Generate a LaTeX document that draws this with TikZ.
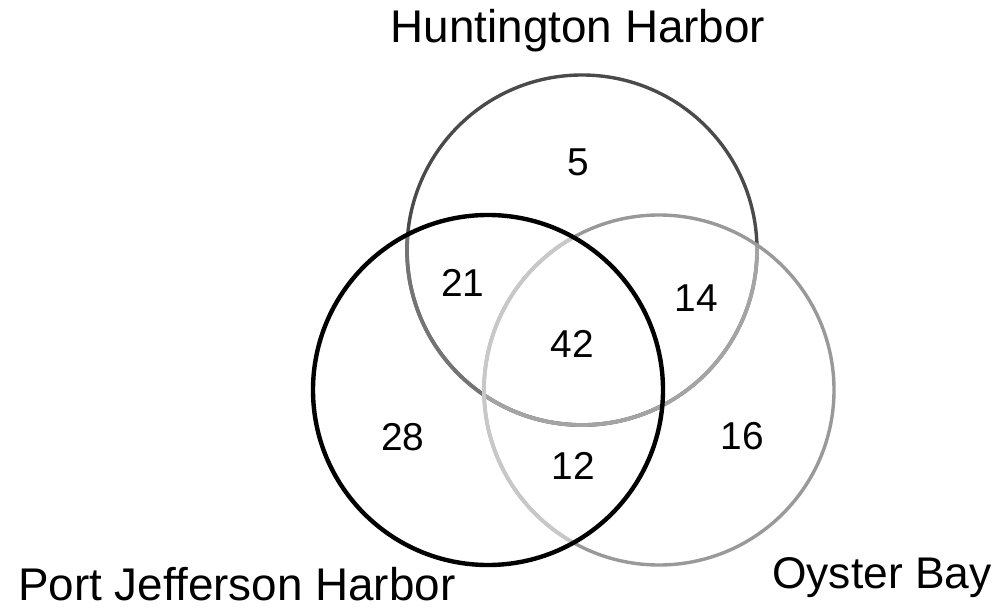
\documentclass[tikz,border=0pt]{standalone}
\usepackage{fontspec}
\setmainfont{Liberation Sans}
\definecolor{hdark}{HTML}{4A4A4A}
\definecolor{hmid}{HTML}{747474}
\definecolor{hlight}{HTML}{A4A4A4}
\definecolor{omid}{HTML}{999999}
\definecolor{olight}{HTML}{C8C8C8}
\tikzset{
  setlabel/.style={inner sep=0pt, font=\fontsize{46}{52}\selectfont},
  count/.style={inner sep=0pt, font=\fontsize{39}{45}\selectfont},
  ring/.style={circle, inner sep=0pt, minimum size=350bp},
}
\begin{document}
\begin{tikzpicture}[x=1bp,y=-1bp]
\useasboundingbox (0,0) rectangle (1002,608);
\fill[white] (0,0) rectangle (1002,608);
\coordinate (hc) at (582,250);
\coordinate (pc) at (488,390);
\coordinate (oc) at (659,390);
% Huntington Harbor circle
\node[ring, draw=hdark, line width=3.4bp] (hh) at (hc) {};
\begin{scope}
  \clip (pc) circle[radius=175bp];
  \draw[hmid, line width=3.8bp] (hc) circle[radius=175bp];
\end{scope}
\begin{scope}
  \clip (oc) circle[radius=175bp];
  \draw[hlight, line width=3.8bp] (hc) circle[radius=175bp];
\end{scope}
% Oyster Bay circle
\node[ring, draw=omid, line width=3.4bp] (ob) at (oc) {};
\begin{scope}
  \clip (pc) circle[radius=175bp];
  \draw[olight, line width=3.8bp] (oc) circle[radius=175bp];
\end{scope}
% Port Jefferson Harbor circle
\node[ring, draw=black, line width=4.4bp] (pj) at (pc) {};
% labels
\node[setlabel, anchor=base] (lhh) at (578,43) {Huntington Harbor};
\node[setlabel, anchor=base west] (lpj) at (18,600) {Port Jefferson Harbor};
\node[setlabel, anchor=base west, font=\fontsize{44.5}{50}\selectfont] (lob) at (772,588) {Oyster Bay};
% counts
\node[count] (n5) at (578,162) {5};
\node[count] (n21) at (463,283) {21};
\node[count] (n14) at (696,298) {14};
\node[count] (n42) at (572,344) {42};
\node[count] (n28) at (403,437) {28};
\node[count] (n12) at (573,466) {12};
\node[count] (n16) at (742,436) {16};
\end{tikzpicture}
\end{document}
